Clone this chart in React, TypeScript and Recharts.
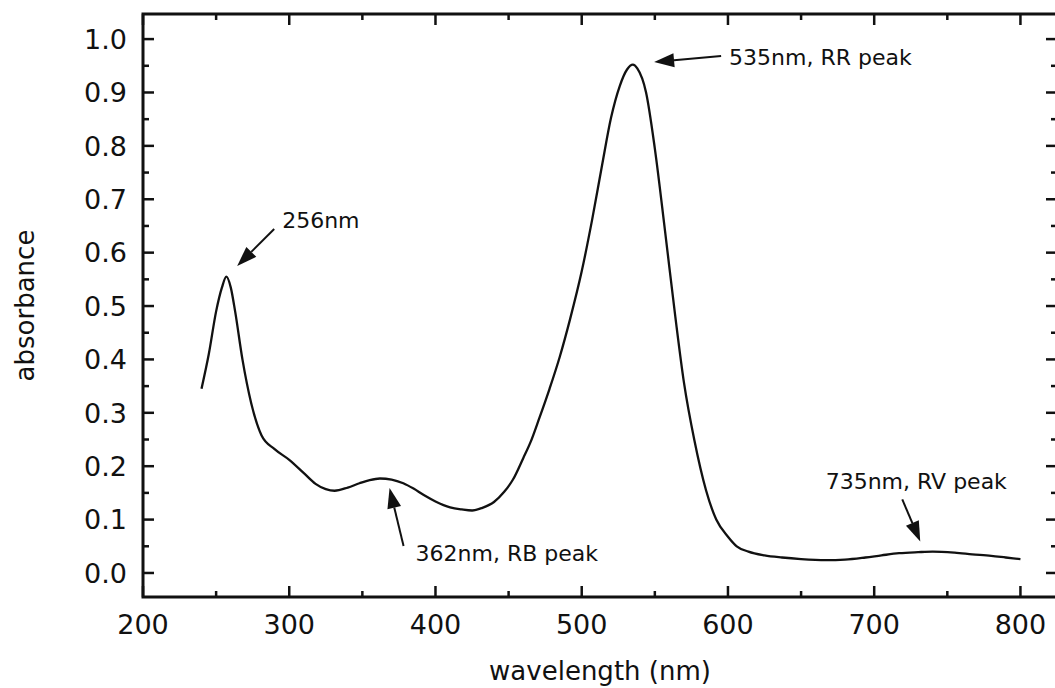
import { LineChart, Line, XAxis, YAxis, ReferenceDot, ReferenceArea } from 'recharts'

// absorbance spectrum
const wavelength = [
  240, 245, 250, 254, 257, 260, 263, 268, 274, 281, 290, 300, 310, 318, 325, 331,
  340, 348, 355, 362, 370, 378, 385, 392, 400, 410, 418, 425, 432, 440, 447, 453,
  460, 465, 471, 478, 485, 492, 500, 507, 514, 520, 526, 531, 535, 538, 544, 550,
  557, 564, 570, 577, 585, 592, 600, 606, 614, 625, 637, 650, 667, 680, 694, 705,
  717, 730, 740, 755, 767, 780, 790, 800,
]
const absorbance = [
  0.345, 0.41, 0.49, 0.535, 0.555, 0.535, 0.49, 0.4, 0.318, 0.258, 0.232, 0.212, 0.187, 0.167, 0.157, 0.154,
  0.16, 0.168, 0.174, 0.177, 0.175, 0.168, 0.158, 0.146, 0.134, 0.123, 0.119, 0.117, 0.122, 0.133, 0.152, 0.175,
  0.215, 0.245, 0.29, 0.345, 0.405, 0.475, 0.565, 0.66, 0.765, 0.852, 0.912, 0.943, 0.952, 0.945, 0.9, 0.795,
  0.64, 0.48, 0.355, 0.249, 0.155, 0.1, 0.068, 0.05, 0.04, 0.033, 0.029, 0.026, 0.024, 0.025, 0.029, 0.033,
  0.037, 0.039, 0.04, 0.038, 0.035, 0.032, 0.029, 0.026,
]

const xTicks = [200, 250, 300, 350, 400, 450, 500, 550, 600, 650, 700, 750, 800]
const xLabels = [200, 300, 400, 500, 600, 700, 800]
const yTicks = [
  0, 0.05, 0.1, 0.15, 0.2, 0.25, 0.3, 0.35, 0.4, 0.45, 0.5,
  0.55, 0.6, 0.65, 0.7, 0.75, 0.8, 0.85, 0.9, 0.95, 1.0,
]
const yLabels = [0, 0.1, 0.2, 0.3, 0.4, 0.5, 0.6, 0.7, 0.8, 0.9, 1.0]

const X_DOMAIN: [number, number] = [200, 825]
const Y_DOMAIN: [number, number] = [-0.045, 1.047]

// arrow tips in data units
const noteText = ['256nm', '535nm, RR peak', '362nm, RB peak', '735nm, RV peak']
const noteX = [264.4, 549.5, 368.6, 731.5]
const noteY = [0.575, 0.957, 0.159, 0.059]

// pixel layout of each arrow: tail offset, text offset, anchor
const noteLayout = [
  { dx: 37, dy: -37, tx: 45, ty: -46, anchor: 'start' },
  { dx: 67, dy: -6, tx: 75, ty: -5, anchor: 'start' },
  { dx: 14, dy: 58, tx: 26, ty: 65, anchor: 'start' },
  { dx: -18, dy: -42, tx: -4, ty: -60, anchor: 'middle' },
]

const data = wavelength.map((w, i) => ({ w, a: absorbance[i] }))

const FONT = '"DejaVu Sans", sans-serif'
const INK = '#111'
// plot frame in pixels (chart margins below put it here)
const PLOT = { left: 143, right: 1057, top: 14, bottom: 597 }

const isLabel = (list: number[], v: number) => list.some((l) => Math.abs(l - v) < 1e-6)

// ticks point inward, on both the bottom and the top edge
function XTick(props: any) {
  const { x, payload } = props
  const major = isLabel(xLabels, payload.value)
  const len = major ? 11 : 6
  return (
    <g>
      <line x1={x} y1={PLOT.bottom} x2={x} y2={PLOT.bottom - len} stroke={INK} strokeWidth={2.5} />
      <line x1={x} y1={PLOT.top} x2={x} y2={PLOT.top + len} stroke={INK} strokeWidth={2.5} />
      {major && (
        <text x={x} y={PLOT.bottom + 27} dy="0.36em" textAnchor="middle" fontFamily={FONT} fontSize={27} fill={INK}>
          {payload.value}
        </text>
      )}
    </g>
  )
}

// same on the left and right edge
function YTick(props: any) {
  const { y, payload } = props
  const major = isLabel(yLabels, payload.value)
  const len = major ? 11 : 6
  return (
    <g>
      <line x1={PLOT.left} y1={y} x2={PLOT.left + len} y2={y} stroke={INK} strokeWidth={2.5} />
      <line x1={PLOT.right} y1={y} x2={PLOT.right - len} y2={y} stroke={INK} strokeWidth={2.5} />
      {major && (
        <text x={PLOT.left - 16} y={y} dy="0.36em" textAnchor="end" fontFamily={FONT} fontSize={27} fill={INK}>
          {payload.value.toFixed(1)}
        </text>
      )}
    </g>
  )
}

function arrowShape(i: number) {
  return (props: any) => {
    const { cx, cy } = props
    const lay = noteLayout[i]
    const tailX = cx + lay.dx
    const tailY = cy + lay.dy
    const ang = Math.atan2(lay.dy, lay.dx)
    const c = Math.cos(ang)
    const s = Math.sin(ang)
    const L = 20
    const W = 7
    const bx = cx + L * c
    const by = cy + L * s
    const pts = `${cx},${cy} ${bx - W * s},${by + W * c} ${bx + W * s},${by - W * c}`
    return (
      <g>
        <line x1={bx} y1={by} x2={tailX} y2={tailY} stroke={INK} strokeWidth={2} />
        <polygon points={pts} fill={INK} />
        <text
          x={cx + lay.tx}
          y={cy + lay.ty}
          dy="0.36em"
          textAnchor={lay.anchor}
          fontFamily={FONT}
          fontSize={22}
          fill={INK}
        >
          {noteText[i]}
        </text>
      </g>
    )
  }
}

export default function App() {
  return (
    <div style={{ position: 'absolute', left: 0, top: 0, width: 1055, height: 688, overflow: 'hidden', background: '#fff' }}>
      <LineChart width={1070} height={688} data={data} margin={{ top: 14, right: 13, bottom: 0, left: 0 }}>
        <XAxis
          xAxisId="b"
          type="number"
          dataKey="w"
          domain={X_DOMAIN}
          allowDataOverflow
          ticks={xTicks}
          interval={0}
          height={91}
          tickSize={0}
          tickMargin={0}
          tickLine={false}
          axisLine={false}
          tick={<XTick />}
          label={{ value: 'wavelength (nm)', position: 'insideBottom', offset: 8, fontFamily: FONT, fontSize: 26, fill: INK }}
        />
        <YAxis
          yAxisId="l"
          type="number"
          domain={Y_DOMAIN}
          allowDataOverflow
          ticks={yTicks}
          interval={0}
          width={143}
          tickSize={0}
          tickMargin={0}
          tickLine={false}
          axisLine={false}
          tick={<YTick />}
          label={{
            value: 'absorbance',
            angle: -90,
            position: 'insideLeft',
            offset: 25,
            fontFamily: FONT,
            fontSize: 26,
            fill: INK,
            style: { textAnchor: 'middle' },
          }}
        />
        <ReferenceArea
          xAxisId="b"
          yAxisId="l"
          x1={X_DOMAIN[0]}
          x2={X_DOMAIN[1]}
          y1={Y_DOMAIN[0]}
          y2={Y_DOMAIN[1]}
          fill="none"
          fillOpacity={0}
          stroke={INK}
          strokeWidth={3}
          strokeOpacity={1}
        />
        <Line
          xAxisId="b"
          yAxisId="l"
          type="monotone"
          dataKey="a"
          stroke={INK}
          strokeWidth={2.3}
          dot={false}
          activeDot={false}
          isAnimationActive={false}
        />
        {noteText.map((t, i) => (
          <ReferenceDot key={t} xAxisId="b" yAxisId="l" x={noteX[i]} y={noteY[i]} shape={arrowShape(i)} />
        ))}
      </LineChart>
    </div>
  )
}
